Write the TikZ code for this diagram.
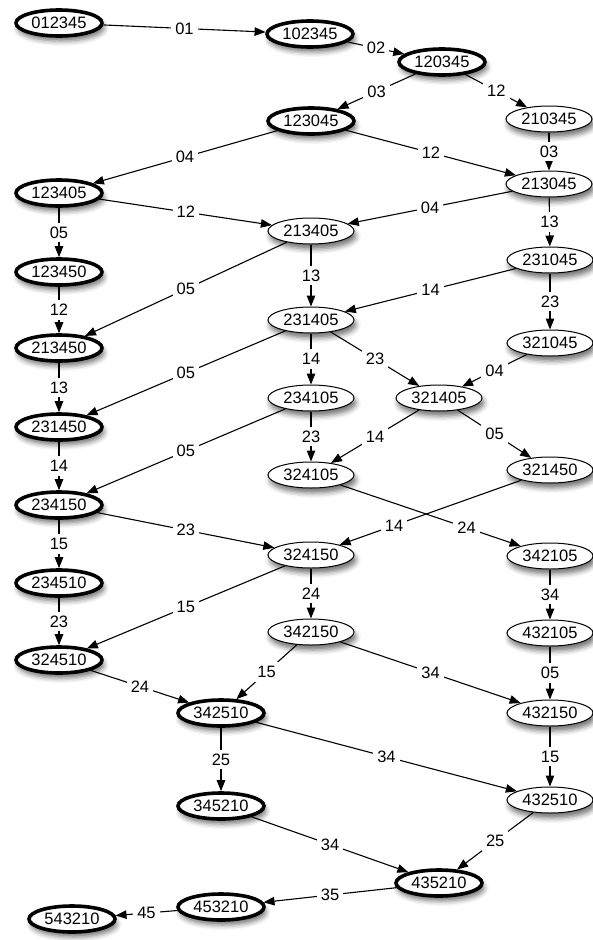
\documentclass[tikz,border=0pt]{standalone}
\usepackage{fontspec}
\setmainfont{Liberation Sans}
\usepackage{tikz}
\usetikzlibrary{shapes.geometric,arrows.meta,shadows.blur}
\tikzstyle{perm} = [ellipse, draw=black, fill=white, line width=1pt, minimum width=86pt, minimum height=26pt, inner sep=0pt, font=\fontsize{16.5}{18}\selectfont, blur shadow={shadow xshift=2pt, shadow yshift=-5pt, shadow blur radius=5pt, shadow opacity=55}]
\tikzstyle{tperm} = [perm, line width=3.6pt]
\tikzstyle{arrow} = [line width=1.1pt, -{Triangle[length=11pt,width=8.5pt]}]
\tikzstyle{lbl} = [fill=white, inner sep=4pt, font=\fontsize{16.5}{18}\selectfont]

\begin{document}
\begin{tikzpicture}[x=1pt, y=-1pt]
    \useasboundingbox (0,0) rectangle (592,940);
    % Place nodes
    \node [tperm] (p012345) at (59,23) {012345};
    \node [tperm] (p102345) at (310,34) {102345};
    \node [tperm] (p120345) at (442,62) {120345};
    \node [tperm] (p123045) at (311,121) {123045};
    \node [perm] (p210345) at (549,119) {210345};
    \node [perm] (p213045) at (549,184) {213045};
    \node [tperm] (p123405) at (59,193) {123405};
    \node [perm] (p213405) at (311,231) {213405};
    \node [perm] (p231045) at (550,260) {231045};
    \node [tperm] (p123450) at (59,272) {123450};
    \node [perm] (p231405) at (311,320) {231405};
    \node [perm] (p321045) at (550,343) {321045};
    \node [tperm] (p213450) at (59,348) {213450};
    \node [perm] (p234105) at (311,398) {234105};
    \node [perm] (p321405) at (439,398) {321405};
    \node [tperm] (p231450) at (59,427) {231450};
    \node [perm] (p324105) at (311,475) {324105};
    \node [perm] (p321450) at (550,470) {321450};
    \node [tperm] (p234150) at (59,505) {234150};
    \node [perm] (p324150) at (311,555) {324150};
    \node [perm] (p342105) at (550,556) {342105};
    \node [tperm] (p234510) at (59,583) {234510};
    \node [perm] (p342150) at (311,632) {342150};
    \node [perm] (p432105) at (550,633) {432105};
    \node [tperm] (p324510) at (59,660) {324510};
    \node [tperm] (p342510) at (221,713) {342510};
    \node [perm] (p432150) at (550,713) {432150};
    \node [tperm] (p345210) at (221,806) {345210};
    \node [perm] (p432510) at (550,800) {432510};
    \node [tperm] (p435210) at (439,883) {435210};
    \node [tperm] (p453210) at (221,907) {453210};
    \node [tperm] (p543210) at (72,919) {543210};

    % Draw edges
    \draw [arrow] (p012345) -- node [lbl] {01} (p102345);
    \draw [arrow] (p102345) -- node [lbl] {02} (p120345);
    \draw [arrow] (p120345) -- node [lbl] {03} (p123045);
    \draw [arrow] (p120345) -- node [lbl] {12} (p210345);
    \draw [arrow] (p123045) -- node [lbl] {04} (p123405);
    \draw [arrow] (p123045) -- node [lbl] {12} (p213045);
    \draw [arrow] (p210345) -- node [lbl] {03} (p213045);
    \draw [arrow] (p123405) -- node [lbl] {12} (p213405);
    \draw [arrow] (p213045) -- node [lbl] {04} (p213405);
    \draw [arrow] (p213045) -- node [lbl] {13} (p231045);
    \draw [arrow] (p123405) -- node [lbl] {05} (p123450);
    \draw [arrow] (p213405) -- node [lbl] {05} (p213450);
    \draw [arrow] (p213405) -- node [lbl] {13} (p231405);
    \draw [arrow] (p231045) -- node [lbl] {14} (p231405);
    \draw [arrow] (p231045) -- node [lbl] {23} (p321045);
    \draw [arrow] (p123450) -- node [lbl] {12} (p213450);
    \draw [arrow] (p231405) -- node [lbl] {05} (p231450);
    \draw [arrow] (p231405) -- node [lbl] {14} (p234105);
    \draw [arrow] (p231405) -- node [lbl] {23} (p321405);
    \draw [arrow] (p321045) -- node [lbl] {04} (p321405);
    \draw [arrow] (p213450) -- node [lbl] {13} (p231450);
    \draw [arrow] (p234105) -- node [lbl] {05} (p234150);
    \draw [arrow] (p234105) -- node [lbl] {23} (p324105);
    \draw [arrow] (p321405) -- node [lbl] {14} (p324105);
    \draw [arrow] (p321405) -- node [lbl] {05} (p321450);
    \draw [arrow] (p231450) -- node [lbl] {14} (p234150);
    \draw [arrow] (p234150) -- node [lbl] {23} (p324150);
    \draw [arrow] (p324105) -- node [lbl, pos=0.7] {24} (p342105);
    \draw [arrow] (p321450) -- node [lbl, pos=0.7] {14} (p324150);
    \draw [arrow] (p234150) -- node [lbl] {15} (p234510);
    \draw [arrow] (p324150) -- node [lbl] {24} (p342150);
    \draw [arrow] (p342105) -- node [lbl] {34} (p432105);
    \draw [arrow] (p324150) -- node [lbl] {15} (p324510);
    \draw [arrow] (p234510) -- node [lbl] {23} (p324510);
    \draw [arrow] (p342150) -- node [lbl] {15} (p342510);
    \draw [arrow] (p342150) -- node [lbl] {34} (p432150);
    \draw [arrow] (p432105) -- node [lbl] {05} (p432150);
    \draw [arrow] (p324510) -- node [lbl] {24} (p342510);
    \draw [arrow] (p342510) -- node [lbl] {25} (p345210);
    \draw [arrow] (p342510) -- node [lbl] {34} (p432510);
    \draw [arrow] (p432150) -- node [lbl] {15} (p432510);
    \draw [arrow] (p345210) -- node [lbl] {34} (p435210);
    \draw [arrow] (p432510) -- node [lbl] {25} (p435210);
    \draw [arrow] (p435210) -- node [lbl] {35} (p453210);
    \draw [arrow] (p453210) -- node [lbl] {45} (p543210);

\end{tikzpicture}
\end{document}
